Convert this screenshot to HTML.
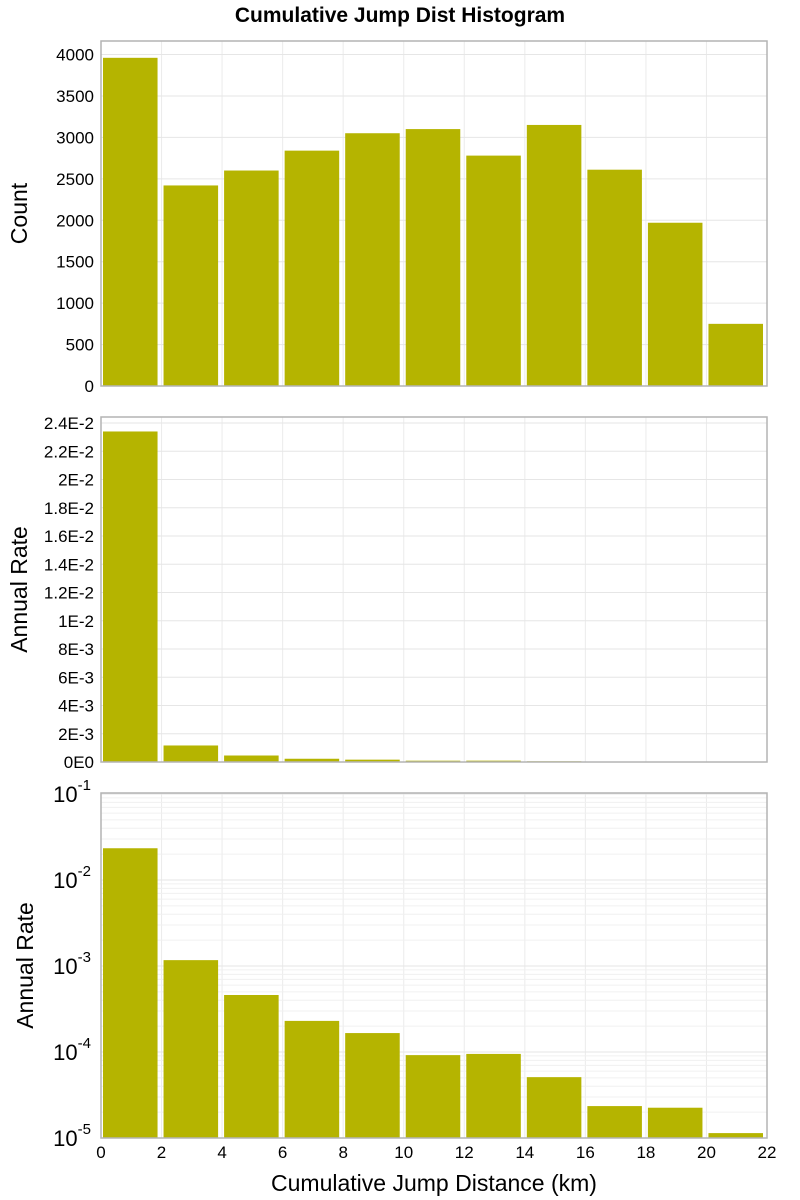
<!DOCTYPE html>
<html><head><meta charset="utf-8"><style>body{margin:0;background:#fff}svg{display:block;font-family:"Liberation Sans","DejaVu Sans",sans-serif}</style></head>
<body>
<svg id="c" width="800" height="1200" xmlns="http://www.w3.org/2000/svg">
<text x="400" y="22" text-anchor="middle" font-size="21" font-weight="bold">Cumulative Jump Dist Histogram</text>
</svg>
<script>
const binStarts=[0,2,4,6,8,10,12,14,16,18,20];
const counts=[3960,2420,2600,2840,3050,3100,2780,3150,2610,1970,750];
const rates=[0.0234,0.00117,0.00046,0.00023,0.000166,0.000092,0.000095,0.000051,0.0000235,0.0000225,0.0000114];
const countTicks=[0,500,1000,1500,2000,2500,3000,3500,4000];
const rateTicks=[0,0.002,0.004,0.006,0.008,0.01,0.012,0.014,0.016,0.018,0.02,0.022,0.024];
const rateTickLabels=["0E0","2E-3","4E-3","6E-3","8E-3","1E-2","1.2E-2","1.4E-2","1.6E-2","1.8E-2","2E-2","2.2E-2","2.4E-2"];
const logExps=[-5,-4,-3,-2,-1];
const xTicks=[0,2,4,6,8,10,12,14,16,18,20,22];
const binWidth=2;
const NS="http://www.w3.org/2000/svg";
const svg=document.getElementById('c');
const L=101,R=767;
const xs=v=>L+(v/22)*(R-L);
function mk(tag,attrs,parent){const e=document.createElementNS(NS,tag);for(const k in attrs)e.setAttribute(k,attrs[k]);(parent||svg).appendChild(e);return e;}
function panel(top,bot,yf,ticks,labels,ylabel,vals,name,isLog){
  const g=mk('g',{});
  
  
  xTicks.forEach(t=>{const l=mk('line',{x1:xs(t),x2:xs(t),y1:top,y2:bot,stroke:'#ebebeb'},g);});
  if(isLog){logExps.forEach((e,i)=>{if(i<logExps.length-1)for(let m=2;m<10;m++){const y=yf(m*Math.pow(10,e));const l=mk('line',{x1:L,x2:R,y1:y,y2:y,stroke:'#f0f0f0'},g);}});}
  ticks.forEach((t,i)=>{const y=yf(t);const l=mk('line',{x1:L,x2:R,y1:y,y2:y,stroke:'#e6e6e6'},g);
    if(isLog){const tx=mk('text',{x:L-10,y:y+8,'text-anchor':'end','font-size':'22'},g);tx.textContent='10';const s=mk('tspan',{dy:'-12','font-size':'15'},tx);s.textContent=labels[i];}
    else{const tx=mk('text',{x:L-7,y:y+6,'text-anchor':'end','font-size':'17'},g);tx.textContent=labels[i];}
  });
  vals.forEach((v,i)=>{const x0=xs(binStarts[i])+2,x1=xs(binStarts[i]+binWidth)-4;const y=yf(v);const r=mk('rect',{x:x0,y:y,width:x1-x0,height:bot-y,fill:'#b5b400'},g);});
  const b=mk('rect',{x:L,y:top,width:R-L,height:bot-top,fill:'none',stroke:'#b4b4b4','stroke-width':1.5},g);
  const yl=mk('text',{x:0,y:0,'text-anchor':'middle','font-size':'23',transform:`translate(${isLog?33:27},${(top+bot)/2}) rotate(-90)`},g);yl.textContent=ylabel;
}
// top
const t1=41,b1=386;const y1=v=>b1-(v/4000)*(b1-54.5);
panel(t1,b1,y1,countTicks,countTicks.map(String),'Count',counts,'count-panel',false);
const t2=417,b2=762;const y2=v=>b2-(v/0.024)*(b2-423);
panel(t2,b2,y2,rateTicks,rateTickLabels,'Annual Rate',rates,'rate-linear-panel',false);
const t3=793,b3=1138;const y3=v=>b3-(Math.log10(v)+5)*86;
panel(t3,b3,y3,logExps.map(e=>Math.pow(10,e)),logExps.map(String),'Annual Rate',rates,'rate-log-panel',true);
xTicks.forEach(t=>{const tx=mk('text',{x:xs(t),y:1158,'text-anchor':'middle','font-size':'17'});tx.textContent=t;});
const xt=mk('text',{x:434,y:1191,'text-anchor':'middle','font-size':'23'});


xt.textContent='Cumulative Jump Distance (km)';
</script>
</body></html>
